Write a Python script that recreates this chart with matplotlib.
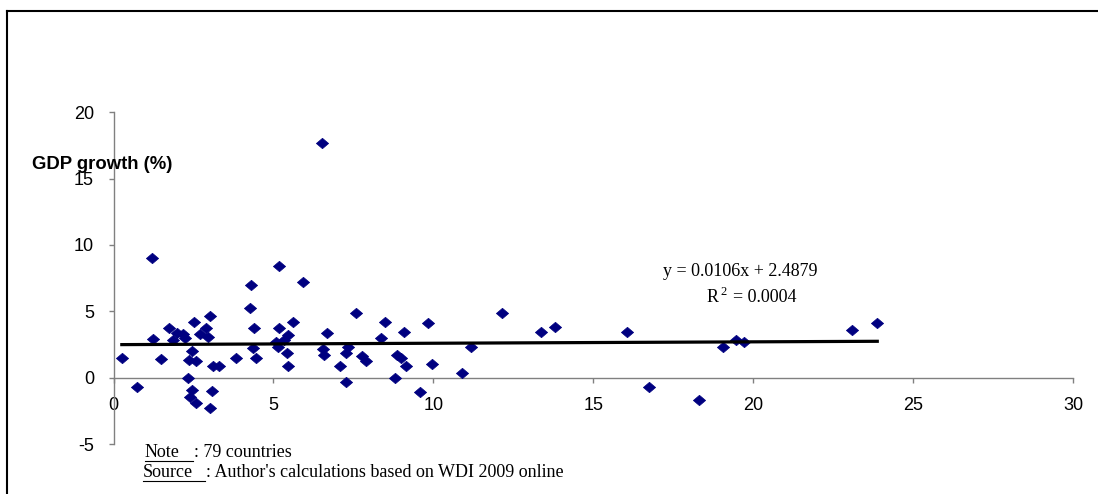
import numpy as np
import matplotlib
matplotlib.use("Agg")
import matplotlib.pyplot as plt
from matplotlib.lines import Line2D
from matplotlib.path import Path

# ---- data ----
x_vals = [0.26, 0.72, 1.19, 1.24, 1.50, 1.74, 1.86, 1.97, 2.17, 2.23,
          2.52, 2.72, 2.90, 2.95, 3.03, 2.44, 2.36, 2.59, 3.11, 3.29,
          2.33, 2.47, 3.09, 2.38, 2.59, 3.03, 3.84, 4.30, 4.27, 4.38,
          4.36, 4.46, 5.17, 5.17, 5.60, 5.45, 5.08, 5.34, 5.13, 5.42,
          5.45, 5.91, 6.53, 6.69, 6.54, 6.59, 7.58, 7.32, 7.27, 7.08,
          7.27, 7.78, 7.91, 8.48, 8.36, 8.87, 8.98, 9.13, 8.80, 9.08,
          9.83, 9.96, 9.58, 10.90, 11.18, 12.14, 13.37, 13.81, 16.06, 16.74,
          18.30, 19.07, 19.45, 19.70, 23.10, 23.88]
y_vals = [1.51, -0.68, 9.04, 2.90, 1.39, 3.72, 2.84, 3.39, 3.29, 2.97,
          4.22, 3.29, 3.72, 3.09, 4.65, 2.04, 1.33, 1.28, 0.88, 0.88,
          -0.05, -0.93, -1.00, -1.48, -1.93, -2.31, 1.46, 6.99, 5.28, 3.72,
          2.21, 1.46, 8.42, 3.72, 4.22, 3.22, 2.71, 2.84, 2.34, 1.84,
          0.88, 7.24, 17.69, 3.35, 2.14, 1.71, 4.90, 2.34, 1.88, 0.88,
          -0.30, 1.64, 1.26, 4.22, 2.97, 1.71, 1.51, 0.88, 0.00, 3.47,
          4.10, 1.01, -1.10, 0.35, 2.29, 4.88, 3.47, 3.84, 3.47, -0.72,
          -1.68, 2.29, 2.84, 2.67, 3.60, 4.14]
trend_slope = 0.0106
trend_intercept = 2.4879
x_ticks = [0, 5, 10, 15, 20, 25, 30]
y_ticks = [-5, 0, 5, 10, 15, 20]
y_label = "GDP growth (%)"
eq_text = "y = 0.0106x + 2.4879"
r2_text = "= 0.0004"
note_text = ": 79 countries"
source_text = ": Author's calculations based on WDI 2009 online"

W, H = 1098, 494
fig = plt.figure(figsize=(W / 100, H / 100), dpi=100)
fig.patch.set_facecolor("white")

ax_left, ax_right = 113.5 / W, 1073 / W
ax_bottom, ax_top = (H - 444) / H, (H - 112.3) / H
ax = fig.add_axes([ax_left, ax_bottom, ax_right - ax_left, ax_top - ax_bottom])
ax.set_xlim(0, 30)
ax.set_ylim(-5, 20)
ax.patch.set_alpha(0)

gray = "#808080"
for s in ("top", "right"):
    ax.spines[s].set_visible(False)
ax.spines["bottom"].set_position(("data", 0))
for s in ("bottom", "left"):
    ax.spines[s].set_color(gray)
    ax.spines[s].set_linewidth(1.0)

sans = "Liberation Sans"
serif = "Liberation Serif"
ax.set_xticks(x_ticks)
ax.set_yticks(y_ticks)
ax.set_xticklabels([str(t) for t in x_ticks], fontfamily=sans, fontsize=13)
ax.set_yticklabels([str(t) for t in y_ticks], fontfamily=sans, fontsize=13)
ax.tick_params(axis="both", direction="out", length=3.6, width=1.0,
               color=gray, labelcolor="black", pad=10.5)

# diamond marker slightly wider than tall
diamond = Path([(-1, 0), (0, 0.85), (1, 0), (0, -0.85), (-1, 0)],
               [Path.MOVETO, Path.LINETO, Path.LINETO, Path.LINETO, Path.CLOSEPOLY])
ax.plot(x_vals, y_vals, linestyle="none", marker=diamond, markersize=8.8,
        markerfacecolor="#000080", markeredgecolor="#000080",
        markeredgewidth=0.5, zorder=3, clip_on=False)

xf = np.array([min(x_vals), max(x_vals)])
ax.plot(xf, trend_slope * xf + trend_intercept, color="black", lw=2.3, zorder=4)

# texts
fig.text(32 / W, 1 - 164 / H, y_label, fontfamily=sans, fontweight="bold",
         fontsize=13.3, ha="left", va="center")
fig.text(740 / W, 1 - 272 / H, eq_text, fontfamily=serif, fontsize=13,
         ha="center", va="center")
fig.text(707 / W, 1 - 297 / H, "R", fontfamily=serif, fontsize=13,
         ha="left", va="center")
fig.text(720 / W, 1 - 292 / H, "2", fontfamily=serif, fontsize=9,
         ha="left", va="center")
fig.text(733 / W, 1 - 297 / H, r2_text, fontfamily=serif, fontsize=13,
         ha="left", va="center")

def underlined(x, y, word, rest, ul_end):
    fig.text(x / W, 1 - y / H, word, fontfamily=serif, fontsize=13,
             ha="left", va="center")
    fig.add_artist(Line2D([x / W, ul_end / W], [1 - (y + 8.5) / H, 1 - (y + 8.5) / H],
                          transform=fig.transFigure, color="black", lw=0.8))
    fig.text((ul_end + 1) / W, 1 - y / H, rest, fontfamily=serif, fontsize=13,
             ha="left", va="center")

underlined(145, 452, "Note", note_text, 193)
underlined(143, 472, "Source", source_text, 205)

# chart-area frame (left and top edges)
fig.add_artist(Line2D([7 / W, 7 / W], [0, 1 - 11 / H], transform=fig.transFigure,
                      color="black", lw=1.5))
fig.add_artist(Line2D([7 / W, 1], [1 - 11 / H, 1 - 11 / H], transform=fig.transFigure,
                      color="black", lw=1.5))

fig.savefig("out.png", dpi=100, facecolor="white")
